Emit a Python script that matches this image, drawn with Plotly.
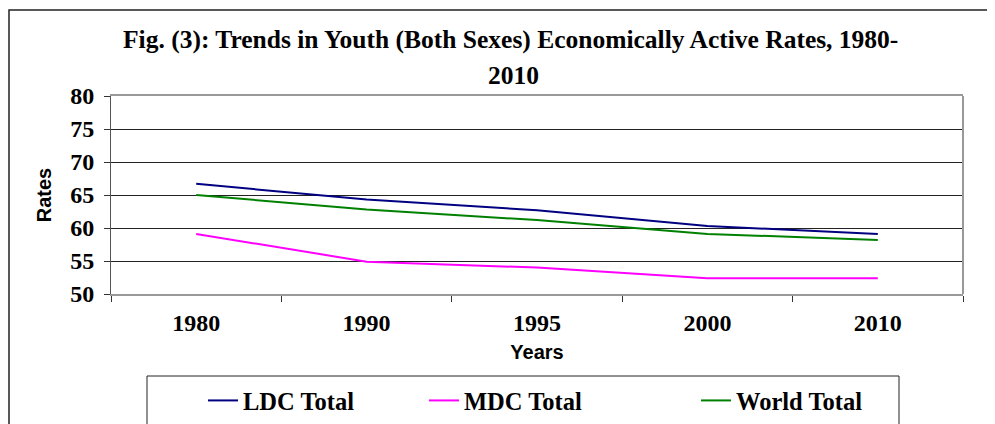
import plotly.graph_objects as go

years = ["1980", "1990", "1995", "2000", "2010"]
ldc_total = [66.7, 64.3, 62.7, 60.3, 59.1]
mdc_total = [59.1, 54.9, 54.0, 52.4, 52.4]
world_total = [65.0, 62.8, 61.2, 59.1, 58.2]
y_ticks = [50, 55, 60, 65, 70, 75, 80]

W, H = 995, 424
OFF = 8  # page offset of the figure in the browser
L, R, T, B = 111, 963, 96, 294  # plot area in screen coordinates


def px(x):
    return (x - L) / (R - L)


def py(y):
    return (B - y) / (B - T)


def cx(x):
    return (x - OFF) / W


def cy(y):
    return 1 - (y - OFF) / H


serif = "Liberation Serif"
sans = "Liberation Sans"

fig = go.Figure()
series = [
    ("LDC Total", ldc_total, "#000080", "legend"),
    ("MDC Total", mdc_total, "#FF00FF", "legend2"),
    ("World Total", world_total, "#008000", "legend3"),
]
for name, vals, col, lg in series:
    fig.add_trace(go.Scatter(x=years, y=vals, name=name, mode="lines",
                             line=dict(color=col, width=2), legend=lg))

leg_common = dict(orientation="h", yanchor="middle", xanchor="left",
                  xref="container", yref="container",
                  bgcolor="rgba(0,0,0,0)", borderwidth=0,
                  font=dict(family=serif, size=24.5, color="black", weight="bold"))
legend_x = [203, 424, 696]
legend_y = 400.5

fig.update_layout(
    width=W, height=H,
    margin=dict(l=L - OFF, r=W - (R - OFF), t=T - OFF, b=H - (B - OFF)),
    paper_bgcolor="white", plot_bgcolor="white",
    showlegend=True,
    legend=dict(x=cx(legend_x[0]), y=cy(legend_y), **leg_common),
    legend2=dict(x=cx(legend_x[1]), y=cy(legend_y), **leg_common),
    legend3=dict(x=cx(legend_x[2]), y=cy(legend_y), **leg_common),
    xaxis=dict(
        type="category", range=[-0.5, 4.5],
        showgrid=False, zeroline=False,
        showline=True, linecolor="#999999", linewidth=2, mirror=True,
        ticks="outside", tickson="boundaries", ticklen=6, tickcolor="#333333",
        tickfont=dict(family=serif, size=24, color="black", weight="bold"),
        ticklabelstandoff=6,
        title=dict(text="Years", font=dict(family=sans, size=20, color="black", weight="bold"),
                   standoff=10),
    ),
    yaxis=dict(
        range=[50, 80], tickvals=y_ticks,
        showgrid=True, gridcolor="#222222", gridwidth=1,
        zeroline=False,
        showline=True, linecolor="#555555", linewidth=1,
        ticks="outside", ticklen=6, tickcolor="#333333",
        tickfont=dict(family=serif, size=24, color="black", weight="bold"),
        ticklabelstandoff=5,
        title=dict(text="Rates", font=dict(family=sans, size=20, color="black", weight="bold"),
                   standoff=13),
    ),
    annotations=[
        dict(text="Fig. (3): Trends in Youth (Both Sexes) Economically Active Rates, 1980-",
             x=px(510), y=py(40), xref="paper", yref="paper", showarrow=False,
             xanchor="center", yanchor="middle",
             font=dict(family=serif, size=25.5, color="black", weight="bold")),
        dict(text="2010", x=px(513), y=py(75), xref="paper", yref="paper", showarrow=False,
             xanchor="center", yanchor="middle",
             font=dict(family=serif, size=25.5, color="black", weight="bold")),
    ],
    shapes=[
        dict(type="rect", xref="paper", yref="paper",
             x0=px(9), x1=px(1020), y0=py(450), y1=py(10),
             line=dict(color="#222222", width=1.5), fillcolor="rgba(0,0,0,0)"),
        dict(type="rect", xref="paper", yref="paper",
             x0=px(147), x1=px(899), y0=py(450), y1=py(376),
             line=dict(color="#222222", width=1), fillcolor="rgba(0,0,0,0)"),
        dict(type="line", xref="paper", yref="paper",
             x0=1, x1=1, y0=0, y1=1, line=dict(color="#999999", width=2)),
    ],
)

fig.write_html("out.html")
